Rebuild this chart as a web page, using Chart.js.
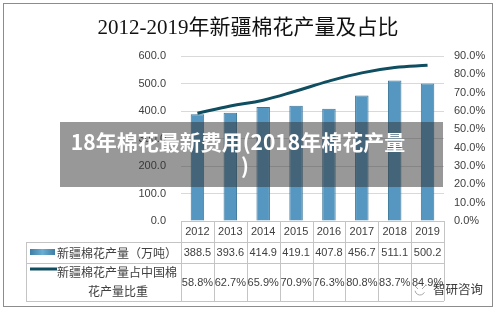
<!DOCTYPE html>
<html>
<head>
<meta charset="utf-8">
<script src="https://cdn.jsdelivr.net/npm/chart.js@4"></script>
<style>
  body { margin: 0; background: #fff; }
  canvas { display: block; }
</style>
</head>
<body>
<canvas id="chart" width="495" height="310"></canvas>
<script>
const years = ["2012", "2013", "2014", "2015", "2016", "2017", "2018", "2019"];
const output = [388.5, 393.6, 414.9, 419.1, 407.8, 456.7, 511.1, 500.2];
const share = [58.8, 62.7, 65.9, 70.9, 76.3, 80.8, 83.7, 84.9];
const outputLabel = "新疆棉花产量（万吨）";
const shareLabel = ["新疆棉花产量占中国棉", "花产量比重"];
const titleText = "2012-2019年新疆棉花产量及占比";
const bannerLines = ["18年棉花最新费用(2018年棉花产量", ")"];

const barColor = "#5597c0";
const barEdge = "#3c7699";
const lineColor = "#0f4d60";
const tableLine = "#c4c4c4";
const textColor = "#404040";
const numFont = "11px 'Liberation Sans', Arial, sans-serif";
const cjkFont = "12px 'Noto Sans CJK SC', sans-serif";

const extras = {
  id: "extras",
  beforeDraw(chart) {
    const ctx = chart.ctx;
    ctx.save();
    ctx.fillStyle = "#fff";
    ctx.fillRect(0, 0, chart.width, chart.height);
    ctx.restore();
  },
  afterDraw(chart) {
    const ctx = chart.ctx;
    const area = chart.chartArea;
    const x = chart.scales.x;
    const colW = (area.right - area.left) / years.length;
    const tTop = area.bottom;
    const r1 = 242, r2 = 263, tBot = 301, tLeft = 26;
    ctx.save();

    // outer frame
    ctx.strokeStyle = "#8c8c8c";
    ctx.lineWidth = 1;
    ctx.strokeRect(3.5, 3.5, 489, 303);

    // title
    ctx.fillStyle = "#111";
    ctx.font = "21px 'Liberation Serif', 'Noto Sans CJK SC', serif";
    ctx.textAlign = "center";
    ctx.textBaseline = "middle";
    ctx.fillText(titleText, 248, 28);

    // data table grid
    ctx.strokeStyle = tableLine;
    ctx.beginPath();
    [r1, r2, tBot].forEach(y => {
      ctx.moveTo(tLeft, y + 0.5);
      ctx.lineTo(area.right, y + 0.5);
    });
    ctx.moveTo(area.left, tTop + 0.5);
    ctx.lineTo(area.right, tTop + 0.5);
    ctx.moveTo(tLeft + 0.5, r1);
    ctx.lineTo(tLeft + 0.5, tBot);
    for (let k = 0; k <= years.length; k++) {
      const px = Math.round(area.left + k * colW) + 0.5;
      ctx.moveTo(px, tTop);
      ctx.lineTo(px, tBot);
    }
    ctx.stroke();

    // cell values
    ctx.fillStyle = textColor;
    ctx.font = numFont;
    ctx.textAlign = "center";
    years.forEach((yr, i) => {
      const cx = x.getPixelForValue(i);
      ctx.fillText(yr, cx, 232);
      ctx.fillText(output[i].toFixed(1), cx, 253);
      ctx.fillText(share[i].toFixed(1) + "%", cx, 283);
    });

    // legend keys in table
    const g = ctx.createLinearGradient(30, 0, 55, 0);
    g.addColorStop(0, "#3f7ea4");
    g.addColorStop(0.5, "#6aaed3");
    g.addColorStop(1, "#3f7ea4");
    ctx.fillStyle = g;
    ctx.fillRect(30, 249, 25, 6);
    ctx.strokeStyle = lineColor;
    ctx.lineWidth = 3;
    ctx.beginPath();
    ctx.moveTo(30, 269);
    ctx.lineTo(57, 269);
    ctx.stroke();

    ctx.fillStyle = textColor;
    ctx.font = cjkFont;
    ctx.textAlign = "left";
    ctx.fillText(outputLabel, 57, 253);
    ctx.fillText(shareLabel[0], 57, 272);
    ctx.textAlign = "center";
    ctx.fillText(shareLabel[1], 118, 291);

    // watermark
    ctx.fillStyle = "rgba(255,255,255,0.8)";
    ctx.beginPath();
    ctx.ellipse(420, 291, 6, 5, 0, 0, Math.PI * 2);
    ctx.fill();
    ctx.strokeStyle = "#a8a8a8";
    ctx.lineWidth = 1;
    ctx.beginPath();
    ctx.arc(420, 290, 5, 0.15 * Math.PI, 0.95 * Math.PI);
    ctx.stroke();
    ctx.beginPath();
    ctx.moveTo(414, 285);
    ctx.lineTo(418, 289);
    ctx.moveTo(426, 285);
    ctx.lineTo(422, 289);
    ctx.stroke();
    ctx.fillStyle = "#3a3a3a";
    ctx.font = "12.5px 'Noto Sans CJK SC', sans-serif";
    ctx.textAlign = "left";
    ctx.fillText("智研咨询", 433, 289);

    // banner overlay
    ctx.fillStyle = "rgba(50,50,50,0.5)";
    ctx.fillRect(60, 122, 383, 65);
    ctx.fillStyle = "#fff";
    ctx.font = "bold 21px 'Noto Sans CJK SC', sans-serif";
    ctx.textAlign = "center";
    ctx.fillText(bannerLines[0], 238, 142);
    ctx.fillText(bannerLines[1], 245, 166);

    ctx.restore();
  }
};

new Chart(document.getElementById("chart"), {
  data: {
    labels: years,
    datasets: [
      {
        type: "line",
        data: share,
        yAxisID: "y1",
        borderColor: lineColor,
        borderWidth: 3,
        tension: 0.4,
        pointRadius: 0,
        fill: false,
        order: 0
      },
      {
        type: "bar",
        data: output,
        yAxisID: "y",
        backgroundColor: barColor,
        borderColor: barEdge,
        borderWidth: 1,
        categoryPercentage: 1,
        barPercentage: 0.41,
        order: 1
      }
    ]
  },
  options: {
    responsive: false,
    animation: false,
    devicePixelRatio: 1,
    layout: { padding: { left: 0, right: 0, top: 56, bottom: 89 } },
    plugins: { legend: { display: false }, tooltip: { enabled: false }, title: { display: false } },
    scales: {
      x: { display: false, offset: true },
      y: {
        position: "left",
        min: 0,
        max: 600,
        afterFit(s) { s.width = 181; },
        border: { display: false },
        grid: { color: "#d9d9d9", drawTicks: false },
        ticks: {
          stepSize: 100,
          padding: 15,
          color: "#404040",
          font: { family: "'Liberation Sans', Arial, sans-serif", size: 11 },
          callback: v => v.toFixed(1)
        }
      },
      y1: {
        position: "right",
        min: 0,
        max: 90,
        afterFit(s) { s.width = 51; },
        border: { display: false },
        grid: { display: false, drawTicks: false },
        ticks: {
          stepSize: 10,
          padding: 10,
          color: "#404040",
          font: { family: "'Liberation Sans', Arial, sans-serif", size: 11 },
          callback: v => v.toFixed(1) + "%"
        }
      }
    }
  },
  plugins: [extras]
});
</script>
</body>
</html>
